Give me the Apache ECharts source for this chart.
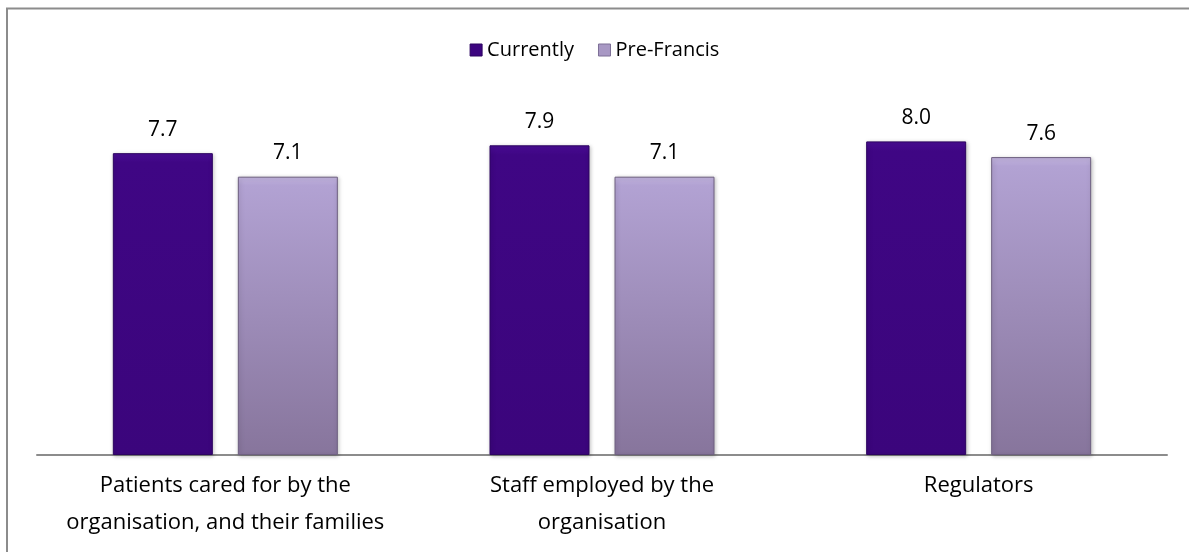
<!DOCTYPE html>
<html><head><meta charset="utf-8">
<script src="https://cdn.jsdelivr.net/npm/echarts@6/dist/echarts.min.js"></script>
<style>html,body{margin:0;padding:0;background:#fff}#c{width:1189px;height:552px}</style>
</head><body><div id="c"></div>
<script>
const categories = ['Patients cared for by the\norganisation, and their families', 'Staff employed by the\norganisation', 'Regulators'];
const currently = [7.7, 7.9, 8.0];
const preFrancis = [7.1, 7.1, 7.6];
const seriesNames = ['Currently', 'Pre-Francis'];

const FONT = 'Open Sans';
const chart = echarts.init(document.getElementById('c'));
const lbl = {show: true, position: 'top', distance: 13, fontFamily: FONT, fontSize: 21, color: '#000', formatter: p => p.value.toFixed(1)};
chart.setOption({
  animation: false,
  graphic: [{type: 'rect', shape: {x: 7, y: 8.5, width: 1300, height: 700}, style: {fill: 'none', stroke: '#8c8c8c', lineWidth: 2}, silent: true}],
  legend: {
    top: 35, left: 'center', icon: 'rect', itemWidth: 12, itemHeight: 12, itemGap: 24,
    textStyle: {fontFamily: FONT, fontSize: 20, color: '#000'},
    data: [
      {name: seriesNames[0], itemStyle: {color: '#3d0580', borderColor: '#2c0460', borderWidth: 1}},
      {name: seriesNames[1], itemStyle: {color: '#a898c4', borderColor: '#7d6f96', borderWidth: 1}}
    ]
  },
  grid: {left: 37, right: 22, top: 63, bottom: 97},
  xAxis: {
    type: 'category', data: categories,
    axisLine: {lineStyle: {color: '#8c8c8c', width: 2}},
    axisTick: {show: false},
    axisLabel: {fontFamily: FONT, fontSize: 22, color: '#000', lineHeight: 37, margin: 12, interval: 0}
  },
  yAxis: {type: 'value', min: 0, max: 10, show: false, splitLine: {show: false}},
  series: [
    {name: seriesNames[0], type: 'bar', data: currently, barWidth: 100, barGap: '25%',
     itemStyle: {color: new echarts.graphic.LinearGradient(0, 0, 0, 1, [{offset: 0, color: '#4a0d96'}, {offset: 0.03, color: '#3f0684'}, {offset: 1, color: '#3b057c'}]),
       borderColor: '#2c0460', borderWidth: 1, shadowColor: 'rgba(0,0,0,0.25)', shadowBlur: 4, shadowOffsetX: 1, shadowOffsetY: 1},
     label: lbl},
    {name: seriesNames[1], type: 'bar', data: preFrancis, barWidth: 100,
     itemStyle: {color: new echarts.graphic.LinearGradient(0, 0, 0, 1, [{offset: 0, color: '#c4b6e0'}, {offset: 0.03, color: '#b2a2d3'}, {offset: 1, color: '#87759c'}]),
       borderColor: '#6e6080', borderWidth: 1, shadowColor: 'rgba(0,0,0,0.25)', shadowBlur: 4, shadowOffsetX: 1, shadowOffsetY: 1},
     label: lbl}
  ]
});
</script></body></html>
